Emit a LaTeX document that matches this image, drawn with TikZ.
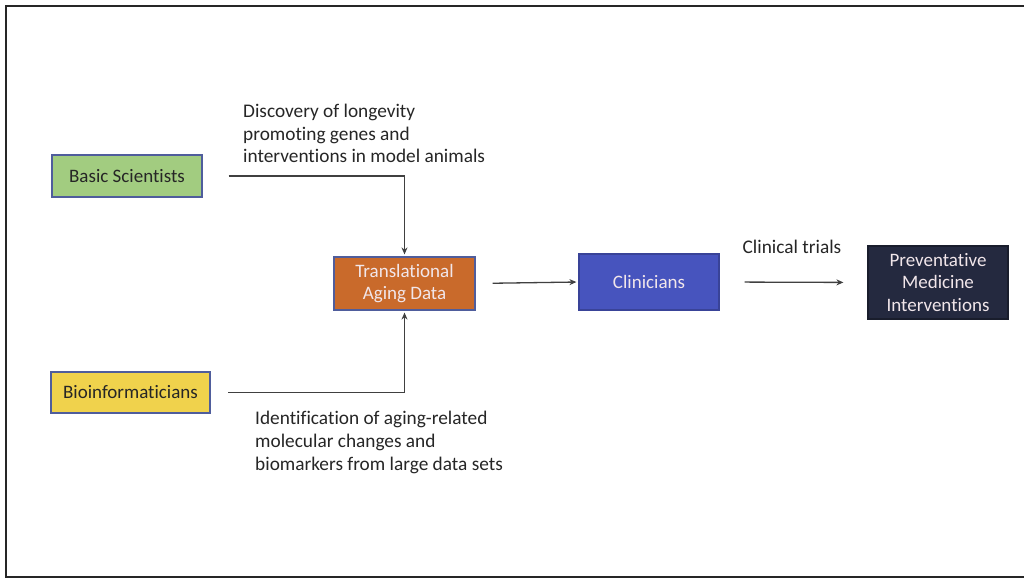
\documentclass[tikz,border=0pt]{standalone}
\usepackage{fontspec}
\setmainfont{Carlito}[Ligatures=NoCommon]
\usetikzlibrary{arrows.meta,positioning}
\definecolor{bsgreen}{HTML}{A2CC80}
\definecolor{biyellow}{HTML}{F0D24C}
\definecolor{tadorange}{HTML}{C96A2B}
\definecolor{clblue}{HTML}{4754BE}
\definecolor{pmnavy}{HTML}{24293F}
\definecolor{edgeblue}{HTML}{4F5D9C}
\definecolor{txtdark}{HTML}{262626}
\definecolor{txtlight}{HTML}{F1E6EA}
\tikzset{
  box/.style={draw=edgeblue, line width=1.2pt, align=center, inner sep=2pt,
              font=\fontsize{19}{22.5}\selectfont},
  darktext/.style={text=txtdark},
  lighttext/.style={text=txtlight},
  arr/.style={draw=black!75, line width=1.3pt, -{Stealth[length=7pt,width=6pt]}},
  lbl/.style={text=txtdark, align=left, anchor=north west, inner sep=0pt,
              font=\fontsize{19.3}{22.7}\selectfont},
}
\begin{document}
\begin{tikzpicture}[x=1pt,y=1pt]
\useasboundingbox (0,0) rectangle (1024,581);
\clip (0,0) rectangle (1024,581);
\fill[white] (0,0) rectangle (1024,581);
\draw[line width=2pt, black!85] (6,4) rectangle (1040,575);

\node[box, darktext, fill=bsgreen, minimum width=150pt, minimum height=42pt] (bs) at (127,405) {Basic Scientists};
\node[box, darktext, fill=biyellow, minimum width=159pt, minimum height=41pt] (bi) at (130.5,188.5) {Bioinformaticians};
\node[box, lighttext, fill=tadorange, minimum width=141pt, minimum height=53pt] (tad) at (404.5,297.5) {Translational\\Aging Data};
\node[box, lighttext, fill=clblue, draw=clblue!80!black, minimum width=140pt, minimum height=56pt] (cl) at (649,299) {Clinicians};
\node[box, lighttext, fill=pmnavy, draw=pmnavy!70!black, minimum width=140pt, minimum height=73pt] (pm) at (938,298.5) {Preventative\\Medicine\\Interventions};

\node[lbl] (l1) at (243,477) {Discovery of longevity\\promoting genes and\\interventions in model animals};
\node[lbl] (l2) at (255,170) {Identification of aging-related\\molecular changes and\\biomarkers from large data sets};
\node[lbl, anchor=center] (l3) at (792,334) {Clinical trials};

\draw[arr, shorten <=26pt, shorten >=2pt] (bs.east) -| (tad.north);
\draw[arr, shorten <=17.5pt, shorten >=2pt] (bi.east) -| (tad.south);
\draw[arr, shorten <=17pt, shorten >=2pt] (tad.east) -- (cl.west);
\draw[arr, shorten <=25pt, shorten >=24pt] (cl.east) -- (pm.west);
\end{tikzpicture}
\end{document}
